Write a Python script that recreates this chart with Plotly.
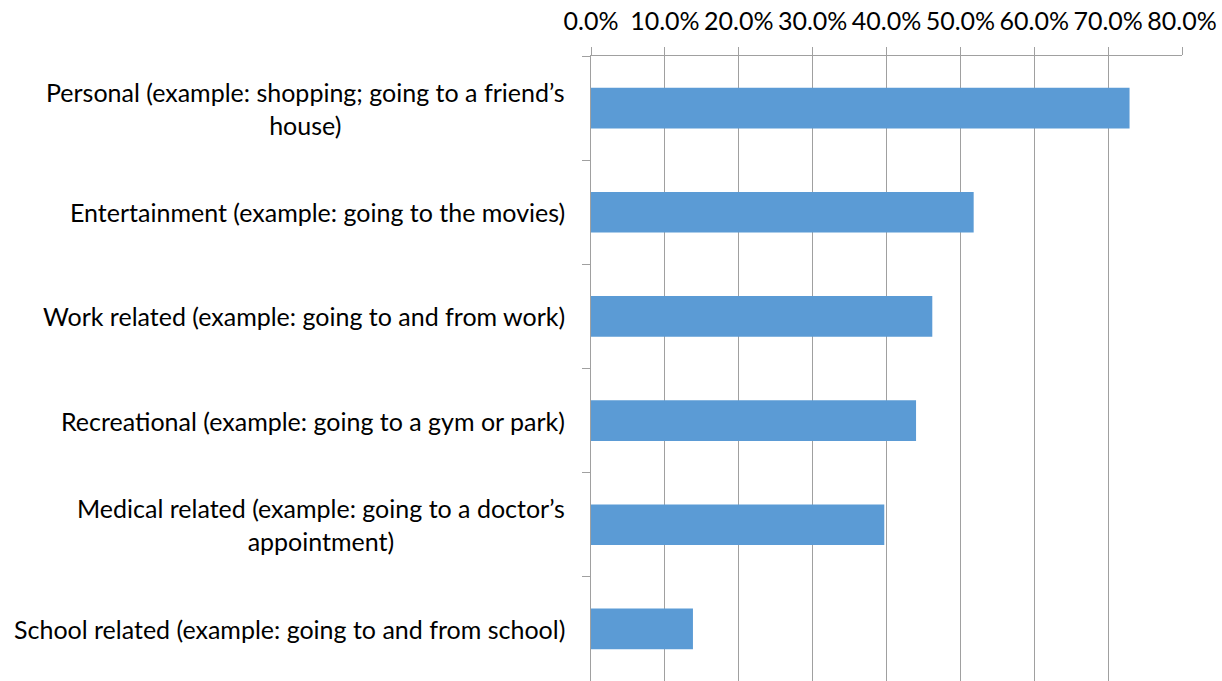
import plotly.graph_objects as go

# Trip purposes (top to bottom) and share of respondents
purposes = [
    "Personal (example: shopping; going to a friend\u2019s<br>house)",
    "Entertainment (example: going to the movies)",
    "Work related (example: going to and from work)",
    "Recreational (example: going to a gym or park)",
    "Medical related (example: going to a doctor\u2019s<br>appointment)",
    "School related (example: going to and from school)",
]
shares = [0.729, 0.518, 0.462, 0.440, 0.397, 0.138]

tick_values = [0.0, 0.1, 0.2, 0.3, 0.4, 0.5, 0.6, 0.7, 0.8]

FONT = "Lato"
SIZE = 25
GRID = "#a0a0a0"

fig = go.Figure(
    go.Bar(
        x=shares,
        y=list(range(len(purposes))),
        orientation="h",
        marker=dict(color="#5b9bd5", line=dict(width=0)),
        width=0.39,
        hoverinfo="skip",
    )
)

# category labels, right-aligned against the axis with centred wrapped lines
for i, label in enumerate(purposes):
    fig.add_annotation(
        x=0, xref="paper", xanchor="right", xshift=-24,
        y=i, yref="y", yanchor="middle",
        text=label, showarrow=False, align="center",
        font=dict(family=FONT, size=SIZE, color="#000000"),
    )

fig.update_layout(
    width=1222, height=681,
    margin=dict(l=591, r=40, t=56, b=0),
    paper_bgcolor="white", plot_bgcolor="white",
    showlegend=False,
    font=dict(family=FONT, size=SIZE, color="#000000"),
    xaxis=dict(
        side="top", range=[0, 0.8], tickvals=tick_values, tickformat=".1%",
        showgrid=True, gridcolor=GRID, gridwidth=1,
        showline=True, linecolor=GRID, linewidth=1,
        ticks="outside", ticklen=8, tickcolor=GRID,
        ticklabelstandoff=7,
        zeroline=False, fixedrange=True,
    ),
    yaxis=dict(
        range=[5.5, -0.5], tickvals=[i - 0.5 for i in range(0, len(purposes) + 1)],
        showticklabels=False, showgrid=False,
        showline=True, linecolor=GRID, linewidth=1,
        ticks="outside", ticklen=8, tickcolor=GRID,
        zeroline=False, fixedrange=True,
    ),
)

fig.write_html("out.html", config=dict(displayModeBar=False))
